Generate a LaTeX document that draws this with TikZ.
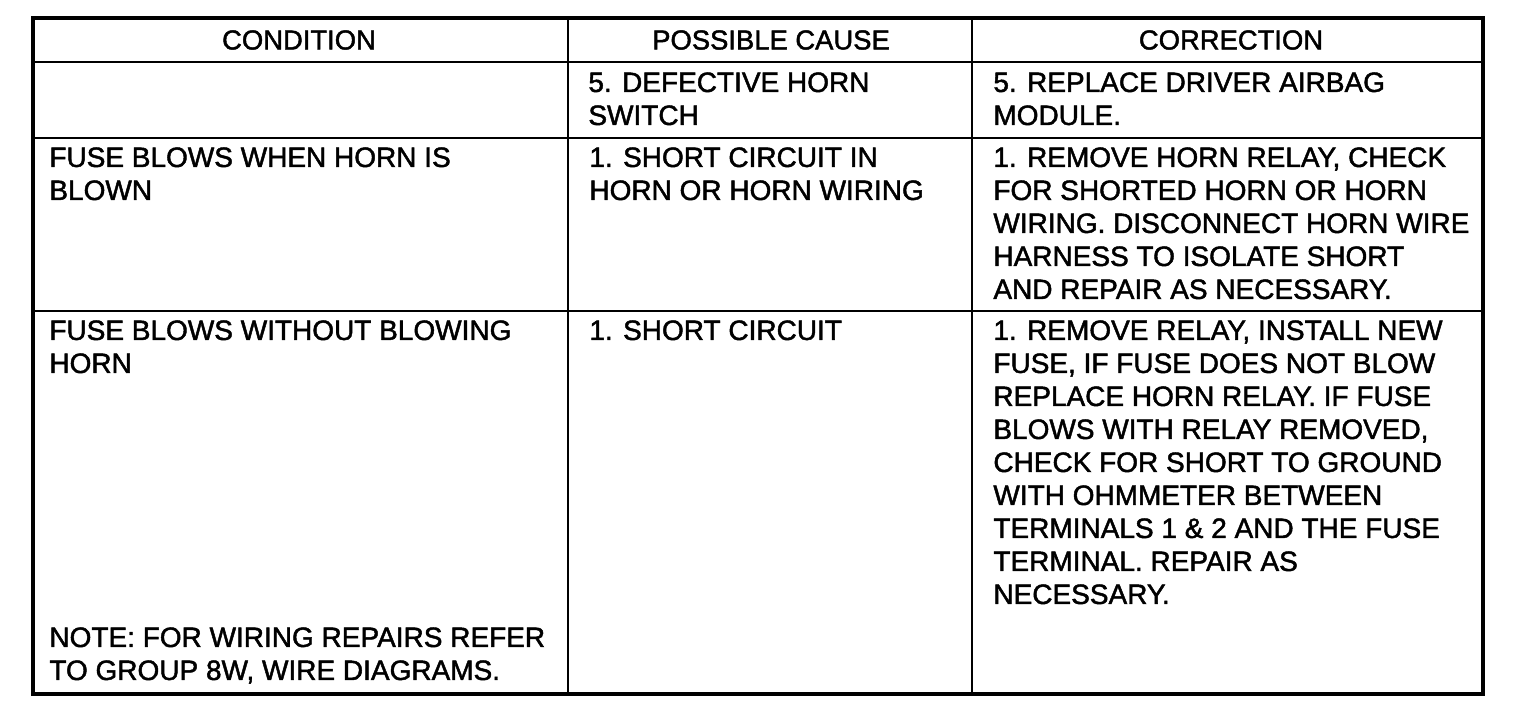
\documentclass[tikz,border=0pt]{standalone}
\usepackage{fontspec}
\setmainfont{Liberation Sans}[FakeBold=1.6]
\begin{document}
\begin{tikzpicture}[x=0.5pt,y=-0.5pt,
  cell/.style={anchor=north west,inner sep=0pt,align=left,font=\fontsize{14}{16.5}\selectfont},
  head/.style={anchor=center,inner sep=0pt,font=\fontsize{13.7}{16}\selectfont},
  outer/.style={line width=1.6pt},
  inner/.style={line width=1.2pt}]
\useasboundingbox[fill=white] (0,0) rectangle (1520,708);
% grid coordinates
\coordinate (tl) at (33,18);
\coordinate (br) at (1483,694);
\draw[outer] (tl) rectangle (br);
\coordinate (c1t) at (568,18); \coordinate (c1b) at (568,694);
\coordinate (c2t) at (972,18); \coordinate (c2b) at (972,694);
\draw[inner] (c1t) -- (c1b);
\draw[inner] (c2t) -- (c2b);
\coordinate (h1l) at (33,62);  \coordinate (h1r) at (1483,62);
\coordinate (h2l) at (33,138); \coordinate (h2r) at (1483,138);
\coordinate (h3l) at (33,311); \coordinate (h3r) at (1483,311);
\draw[inner] (h1l) -- (h1r);
\draw[inner] (h2l) -- (h2r);
\draw[inner] (h3l) -- (h3r);
% headers
\node[head] (hcond) at (299,40) {CONDITION};
\node[head] (hcause) at (771,40) {POSSIBLE CAUSE};
\node[head] (hcorr) at (1231,40) {CORRECTION};
% row 1
\node[cell] (r1b) at (588,72) {5. DEFECTIVE HORN\\SWITCH};
\node[cell] (r1c) at (993,72) {5. REPLACE DRIVER AIRBAG\\MODULE.};
% row 2
\node[cell] (r2a) at (49,147) {FUSE BLOWS WHEN HORN IS\\BLOWN};
\node[cell] (r2b) at (589,147) {1. SHORT CIRCUIT IN\\HORN OR HORN WIRING};
\node[cell] (r2c) at (993,147) {1. REMOVE HORN RELAY, CHECK\\FOR SHORTED HORN OR HORN\\WIRING. DISCONNECT HORN WIRE\\HARNESS TO ISOLATE SHORT\\AND REPAIR AS NECESSARY.};
% row 3
\node[cell] (r3a) at (49,320) {FUSE BLOWS WITHOUT BLOWING\\HORN};
\node[cell] (r3b) at (589,320) {1. SHORT CIRCUIT};
\node[cell] (r3c) at (993,320) {1. REMOVE RELAY, INSTALL NEW\\FUSE, IF FUSE DOES NOT BLOW\\REPLACE HORN RELAY. IF FUSE\\BLOWS WITH RELAY REMOVED,\\CHECK FOR SHORT TO GROUND\\WITH OHMMETER BETWEEN\\TERMINALS 1 \& 2 AND THE FUSE\\TERMINAL. REPAIR AS\\NECESSARY.};
\node[cell] (note) at (49,627) {NOTE: FOR WIRING REPAIRS REFER\\TO GROUP 8W, WIRE DIAGRAMS.};
\end{tikzpicture}
\end{document}
